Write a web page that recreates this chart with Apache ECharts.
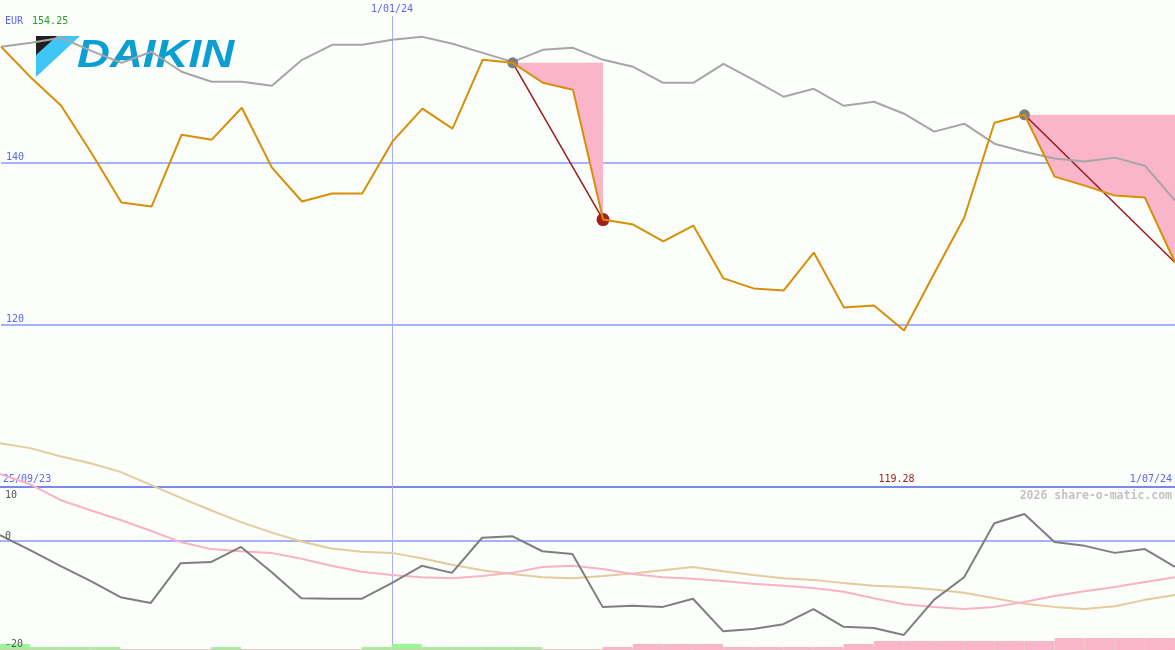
<!DOCTYPE html>
<html><head><meta charset="utf-8">
<script src="https://cdn.jsdelivr.net/npm/echarts@6/dist/echarts.min.js"></script>
<style>html,body{margin:0;padding:0;background:#fcfefc}#c{width:1175px;height:650px}</style>
</head><body><div id="c"></div>
<script>
// ---- data (weekly points, index 0 = 25/09/23, index 39 = 1/07/24) ----
const price = [154.25,150.42,146.97,141.19,135.04,134.55,143.41,142.79,146.73,139.35,
  135.17,136.15,136.15,142.55,146.61,144.15,152.63,152.26,149.80,148.94,
  132.95,132.34,130.25,132.21,125.70,124.47,124.22,128.89,122.13,122.37,
  119.28,126.31,133.20,144.88,145.86,138.24,137.13,135.90,135.66,127.66];
const movingAvg = [154.23,154.72,155.34,153.74,152.26,153.62,151.16,149.93,149.93,149.43,
  152.63,154.48,154.48,155.10,155.46,154.60,153.49,152.38,153.86,154.11,
  152.63,151.77,149.80,149.80,152.14,150.17,148.08,149.06,146.97,147.47,
  145.99,143.78,144.76,142.30,141.31,140.46,140.09,140.58,139.59,135.29];
const oscGrey = [1.1,-1.7,-4.6,-7.4,-10.4,-11.5,-4.1,-3.9,-1.1,-5.7,
  -10.6,-10.7,-10.7,-7.8,-4.6,-5.9,0.6,0.9,-1.9,-2.4,
  -12.2,-12.0,-12.2,-10.7,-16.7,-16.3,-15.4,-12.6,-15.9,-16.1,
  -17.4,-10.9,-6.7,3.3,5.0,-0.2,-0.9,-2.2,-1.5,-4.8];
const oscPink = [12.4,10.5,7.6,5.7,3.9,1.9,-0.2,-1.5,-1.9,-2.2,
  -3.3,-4.6,-5.7,-6.3,-6.7,-6.9,-6.5,-5.9,-4.8,-4.6,
  -5.2,-6.1,-6.7,-7.0,-7.4,-7.9,-8.3,-8.7,-9.4,-10.6,
  -11.7,-12.2,-12.6,-12.2,-11.3,-10.2,-9.3,-8.5,-7.6,-6.7];
const oscTan = [18.1,17.2,15.7,14.4,12.8,10.4,8.0,5.7,3.5,1.6,
  -0.1,-1.4,-2.0,-2.2,-3.2,-4.4,-5.4,-6.1,-6.7,-6.9,
  -6.5,-6.0,-5.4,-4.8,-5.6,-6.3,-6.9,-7.2,-7.8,-8.3,
  -8.5,-9.0,-9.6,-10.6,-11.6,-12.2,-12.6,-12.1,-10.9,-10.0];
const barsUp = [2,1,1,1,0,0,0,1,0,0,0,0,1,2,1,1,1,1,0,0,
  0,0,0,0,0,0,0,0,0,0,0,0,0,0,0,0,0,0,0];
const barsDown = [0,0,0,0,0,0,0,0,0,0,0,0,0,0,0,0,0,0,0,0,
  1,2,2,2,1,1,1,1,2,3,3,3,3,3,3,4,4,4,4];
const drawdowns = [[17,20],[34,39]];   // [peak index, end index]
const troughMarks = [20];
const topTicks = [120,140];
const lowTicks = [10,0,-20];
const startLabel = '25/09/23', endLabel = '1/07/24';
const midDateLabel = '1/01/24', midDateIndex = 13.01;
const minLabel = '119.28', minIndex = 30;
const currency = 'EUR', headline = '154.25';
const brand = 'DAIKIN', watermark = '2026 share-o-matic.com';

// ---- chart ----
const BLUE = '#5a66ee', GRIDC = '#a6b2f4', MONO = 'DejaVu Sans Mono';
const pairs = arr => arr.map((v,i)=>[i,v]);
const lastIdx = price.length - 1;
const chart = echarts.init(document.getElementById('c'));
const noAxis = {axisLine:{show:false},axisTick:{show:false},splitLine:{show:false}};
const option = {
  animation:false,
  backgroundColor:'#fcfefc',
  grid:[
    {left:0,right:0,top:0,height:487},
    {left:0,right:0,top:487,height:162},
    {left:0,right:0,top:638,height:12},
    {left:0,right:0,top:16,bottom:0}
  ],
  xAxis:[
    Object.assign({gridIndex:0,type:'value',min:0,max:lastIdx,interval:1,
     axisLabel:{inside:true,margin:3,fontFamily:MONO,fontSize:10,color:BLUE,
       alignMinLabel:'left',alignMaxLabel:'right',
       formatter:v=> v===0?'{s|'+startLabel+'}': v===minIndex?'{r|'+minLabel+'}': v===lastIdx?'{e|'+endLabel+'}':'',
       rich:{s:{fontFamily:MONO,fontSize:10,color:BLUE,padding:[0,0,0,2]},
             r:{fontFamily:MONO,fontSize:10,color:'#a01f1f',padding:[0,15,0,0]},
             e:{fontFamily:MONO,fontSize:10,color:BLUE,padding:[0,3,0,0]}}}},noAxis),
    {gridIndex:1,type:'value',min:0,max:lastIdx,show:false},
    {gridIndex:2,type:'category',data:barsUp.map((_,i)=>i),show:false,boundaryGap:true},
    {gridIndex:3,type:'value',min:0,max:lastIdx,show:false}
  ],
  yAxis:[
    Object.assign({gridIndex:0,type:'value',min:100,max:160,interval:20,position:'left',
     axisLabel:{inside:true,margin:5,verticalAlign:'bottom',fontFamily:MONO,fontSize:10,color:BLUE,
       formatter:v=> topTicks.includes(v)?String(v):''}},noAxis),
    Object.assign({gridIndex:1,type:'value',min:-20,max:10,interval:10,position:'left',zlevel:2,
     axisLabel:{inside:true,margin:5,verticalAlign:'bottom',fontFamily:MONO,fontSize:10,color:'#555',
       formatter:v=> (lowTicks.includes(v)&&v!==10)?String(v):''}},noAxis),
    Object.assign({gridIndex:1,type:'value',min:-20,max:10,interval:10,position:'left',offset:0,
     axisLabel:{inside:true,margin:5,verticalAlign:'top',padding:[3,0,0,0],fontFamily:MONO,fontSize:10,color:'#555',
       formatter:v=> (lowTicks.includes(v)&&v===10)?String(v):''}},noAxis),
    {gridIndex:2,type:'value',min:0,max:4,show:false},
    {gridIndex:3,type:'value',min:0,max:1,show:false}
  ],
  graphic:[
    {type:'polygon',shape:{points:[[36,36],[80,36],[36,77]]},style:{fill:'#3fc6f4'}},
    {type:'polygon',shape:{points:[[36,36],[57,36],[36,55]]},style:{fill:'#231f20'}},
    {type:'text',x:77,y:57,scaleX:1.2,originX:0,originY:0,
     style:{text:brand,x:0,y:0,fill:'#0a9fd3',font:'italic bold 38px "Liberation Sans"',verticalAlign:'middle',align:'left'}},
    {type:'text',x:5,y:21,
     style:{text:'{a|'+currency+'}{b|'+headline+'}',verticalAlign:'middle',align:'left',
       rich:{a:{fontFamily:MONO,fontSize:10,fill:BLUE},b:{fontFamily:MONO,fontSize:10,fill:'#22a022',padding:[0,0,0,9]}}}},
    {type:'text',x:1172,y:496,
     style:{text:watermark,align:'right',verticalAlign:'middle',fill:'#c2c2c2',font:'bold 11.5px "DejaVu Sans Mono"'}}
  ],
  series:[
    {type:'line',xAxisIndex:0,yAxisIndex:0,data:[],silent:true,
     markLine:{z:1,silent:true,symbol:'none',label:{show:false},
       lineStyle:{color:GRIDC,width:2,type:'solid'},data:topTicks.map(v=>({yAxis:v}))}},
    {type:'line',xAxisIndex:1,yAxisIndex:1,data:[],silent:true,
     markLine:{z:1,silent:true,symbol:'none',label:{show:false},
       data:[{yAxis:0,lineStyle:{color:GRIDC,width:2,type:'solid'}},
             {yAxis:10,lineStyle:{color:'#7888ee',width:2,type:'solid'}}]}},
    {type:'line',xAxisIndex:3,yAxisIndex:4,data:[],silent:true,
     markLine:{z:1,silent:true,symbol:'none',
       label:{show:true,position:'end',distance:2,formatter:midDateLabel,color:BLUE,fontFamily:MONO,fontSize:10},
       lineStyle:{color:GRIDC,width:1,type:'solid'},data:[{xAxis:midDateIndex}]}},
    {type:'custom',xAxisIndex:0,yAxisIndex:0,z:2,silent:true,
     data:drawdowns,
     renderItem:(params,api)=>{
       const s=api.value(0), e=api.value(1), peak=price[s];
       const pts=[api.coord([s,peak]),api.coord([e,peak])];
       for(let i=e;i>=s;i--) pts.push(api.coord([i,price[i]]));
       return {type:'polygon',shape:{points:pts},style:{fill:'#f9b5ca'}};
     }},
    {type:'line',xAxisIndex:0,yAxisIndex:0,zlevel:1,z:3,data:pairs(movingAvg),symbol:'none',
     lineStyle:{color:'#a6a6a6',width:2}},
    {type:'scatter',xAxisIndex:0,yAxisIndex:0,zlevel:1,z:4,symbolSize:11,
     itemStyle:{color:'#7f7f7f',opacity:1},data:drawdowns.map(d=>[d[0],price[d[0]]])},
    {type:'scatter',xAxisIndex:0,yAxisIndex:0,zlevel:1,z:4,symbolSize:13,
     itemStyle:{color:'#a41d1d',opacity:1},data:troughMarks.map(i=>[i,price[i]])},
    {type:'line',xAxisIndex:0,yAxisIndex:0,zlevel:1,z:5,data:pairs(price),symbol:'none',
     lineStyle:{color:'#d68f06',width:2},
     markLine:{z:6,silent:true,symbol:'none',label:{show:false},
       lineStyle:{color:'#981b1b',width:1.5,type:'solid'},
       data:drawdowns.map(d=>[{coord:[d[0],price[d[0]]]},{coord:[d[1],price[d[1]]]}])}},
    {type:'line',xAxisIndex:1,yAxisIndex:1,z:3,clip:false,data:pairs(oscTan),symbol:'none',
     lineStyle:{color:'#e3cb9c',width:2}},
    {type:'line',xAxisIndex:1,yAxisIndex:1,z:3,clip:false,data:pairs(oscPink),symbol:'none',
     lineStyle:{color:'#f7b2c8',width:2}},
    {type:'line',xAxisIndex:1,yAxisIndex:1,z:4,clip:false,data:pairs(oscGrey),symbol:'none',
     lineStyle:{color:'#7e7e7e',width:2}},
    {type:'bar',xAxisIndex:2,yAxisIndex:3,z:2,data:barsUp,barWidth:'100%',barGap:'-100%',
     itemStyle:{color:'#98f898',borderColor:'#98f898',borderWidth:1},silent:true},
    {type:'bar',xAxisIndex:2,yAxisIndex:3,z:2,data:barsDown,barWidth:'100%',barGap:'-100%',
     itemStyle:{color:'#f9b5ca',borderColor:'#f9b5ca',borderWidth:1},silent:true}
  ]
};
chart.setOption(option);
</script></body></html>
